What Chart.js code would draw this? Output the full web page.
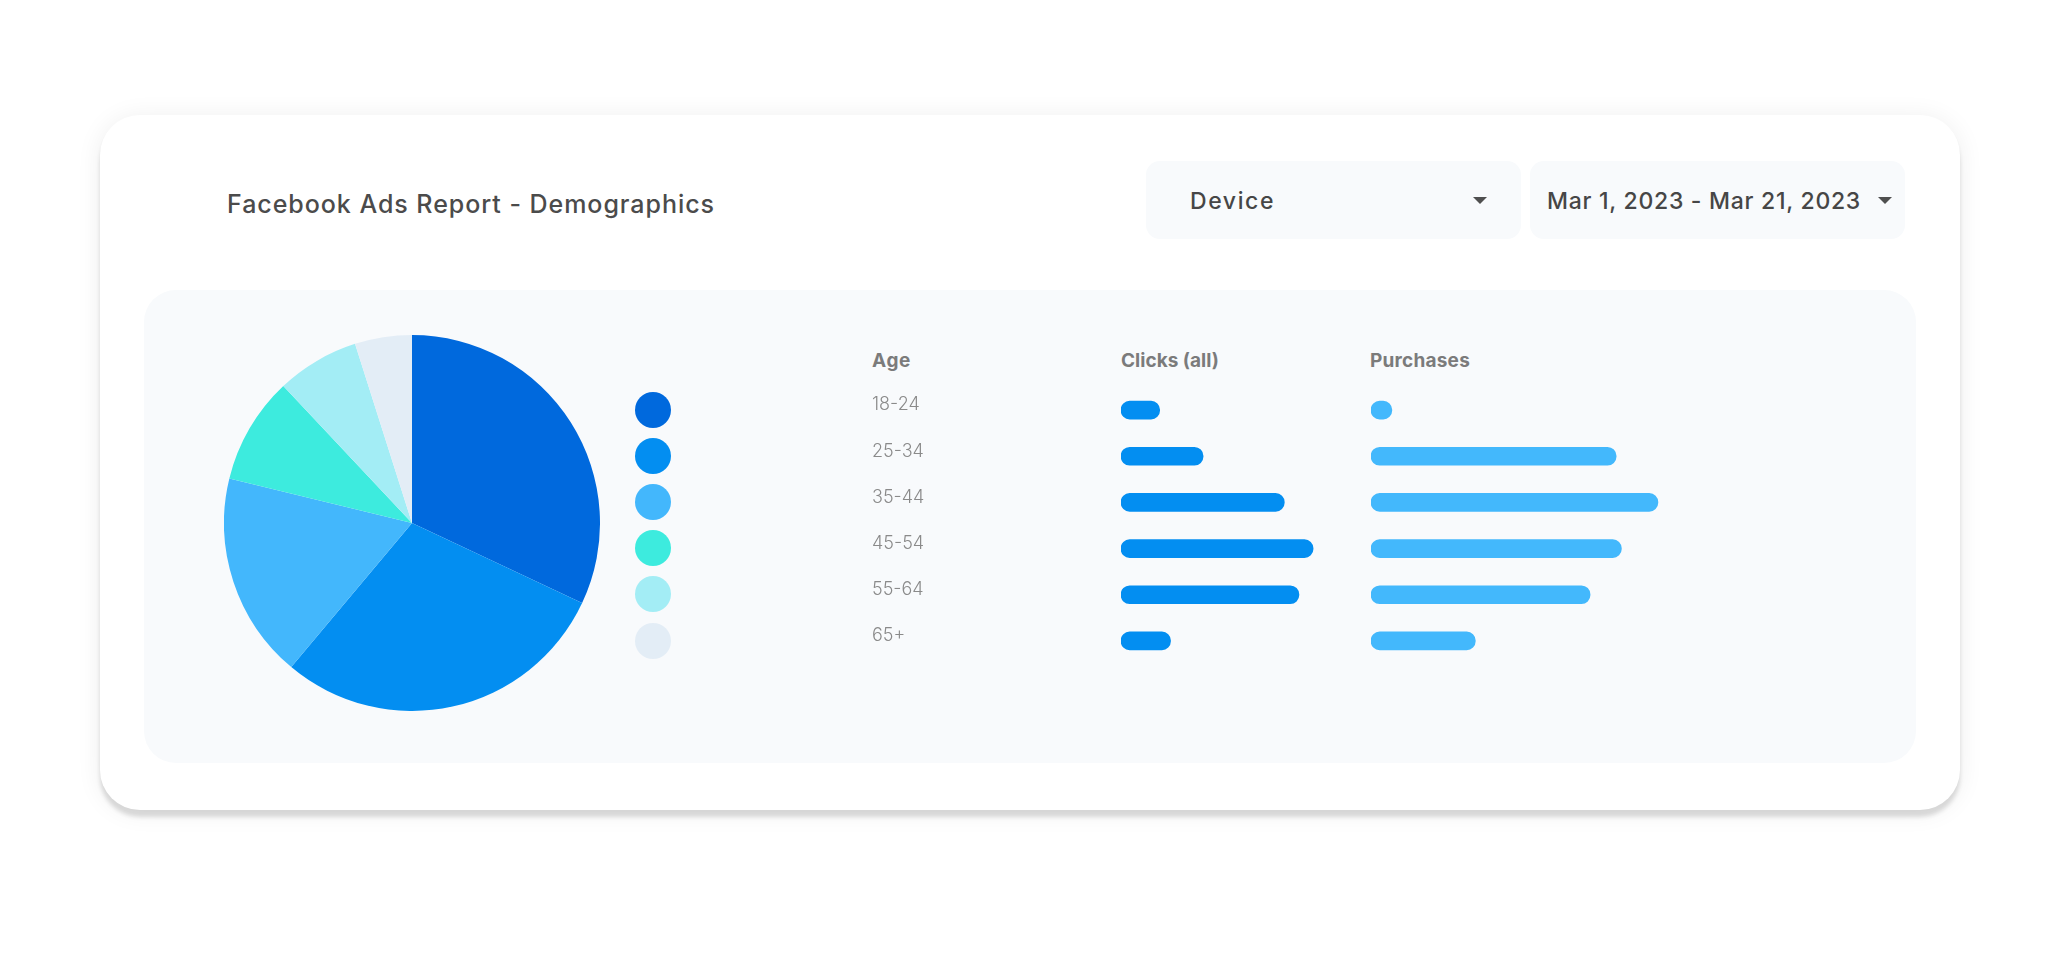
<!DOCTYPE html>
<html>
<head>
<meta charset="utf-8">
<title>Facebook Ads Report - Demographics</title>
<script src="https://cdn.jsdelivr.net/npm/chart.js@4.4.1/dist/chart.umd.min.js"></script>
<style>
    html, body { margin: 0; padding: 0; background: #ffffff; }
    body { width: 2048px; height: 963px; position: relative; overflow: hidden; font-family: Inter, "Open Sans", sans-serif; }
    .card { position: absolute; left: 100px; top: 115px; width: 1860px; height: 695px; background: #ffffff; border-radius: 40px;
        box-shadow: 0 7px 4px rgba(0,0,0,0.13), 0 2px 26px rgba(0,0,0,0.07); }
    .txt { position: absolute; white-space: nowrap; line-height: 1; }
    .title { left: 227px; top: 192px; font-size: 25px; font-weight: 500; color: #4b4b4b; }
    .dropdown { position: absolute; top: 161px; height: 78px; width: 375px; background: #f8fafc; border-radius: 14px; }
    .dd-text { top: 190px; font-size: 23px; font-weight: 500; color: #464646; }
    .arrow { position: absolute; top: 197px; width: 0; height: 0; border-left: 7.5px solid transparent; border-right: 7.5px solid transparent; border-top: 7px solid #4f4f4f; }
    .panel { position: absolute; left: 144px; top: 290px; width: 1772px; height: 473px; background: #f8fafc; border-radius: 32px; }
    .head { top: 351px; font-size: 19px; font-weight: 700; color: #7b7b7b; }
    .dot { position: absolute; width: 36px; height: 36px; border-radius: 50%; }
    canvas { position: absolute; }
</style>
</head>
<body>
<div class="card"></div>
<div class="txt title" id="title">Facebook Ads Report - Demographics</div>

<div class="dropdown" style="left:1146px"></div>
<div class="dropdown" style="left:1530px"></div>
<div class="txt dd-text" id="ddDevice" style="left:1190px">Device</div>
<div class="arrow" style="left:1473px"></div>
<div class="txt dd-text" id="ddDate" style="left:1547px">Mar 1, 2023 - Mar 21, 2023</div>
<div class="arrow" style="left:1878px"></div>

<div class="panel"></div>
<div id="legend"></div>

<div class="txt head" id="hAge" style="left:872px">Age</div>
<div class="txt head" id="hClicks" style="left:1121px">Clicks (all)</div>
<div class="txt head" id="hPurchases" style="left:1370px">Purchases</div>

<canvas id="pieChart" width="376" height="376" style="left:224px; top:335px"></canvas>
<canvas id="clicksChart" width="485" height="277" style="left:872px; top:387px"></canvas>
<canvas id="purchasesChart" width="313" height="277" style="left:1371px; top:387px"></canvas>

<script>
const ageGroups = ['18-24', '25-34', '35-44', '45-54', '55-64', '65+'];
const shareValues = [32.0, 29.1, 17.7, 9.2, 7.1, 4.9];
const clicksValues = [410, 870, 1730, 2035, 1885, 525];
const purchasesValues = [4, 47, 55, 48, 42, 20];

const pieColors = ['#0069dd', '#038ef1', '#43b7fc', '#3debde', '#a3edf5', '#e3edf6'];
const clicksColor = '#038ef1';
const purchasesColor = '#43b8fc';

Chart.defaults.animation = false;
Chart.defaults.font.family = 'Inter, "Open Sans", sans-serif';

// stretch a label so it spans the same width as in the design
function fitText(id, target) {
    const el = document.getElementById(id);
    const w = el.getBoundingClientRect().width;
    el.style.letterSpacing = ((target - w) / el.textContent.length) + 'px';
}

function drawLegend() {
    const box = document.getElementById('legend');
    pieColors.forEach((c, i) => {
        const d = document.createElement('div');
        d.className = 'dot';
        d.style.background = c;
        d.style.left = (653 - 18) + 'px';
        d.style.top = (409.5 + i * 46.2 - 18) + 'px';
        box.appendChild(d);
    });
}

function createPie() {
    new Chart(document.getElementById('pieChart'), {
        type: 'pie',
        data: {
            labels: ageGroups,
            datasets: [{
                data: shareValues,
                backgroundColor: pieColors,
                borderWidth: 0
            }]
        },
        options: {
            responsive: false,
            events: [],
            plugins: { legend: { display: false }, tooltip: { enabled: false } }
        }
    });
}

function createBars(canvasId, values, color, max, showAges) {
    new Chart(document.getElementById(canvasId), {
        type: 'bar',
        data: {
            labels: ageGroups,
            datasets: [{
                data: values,
                backgroundColor: color,
                borderRadius: 9,
                borderSkipped: false,
                barThickness: 18
            }]
        },
        options: {
            indexAxis: 'y',
            responsive: false,
            events: [],
            layout: { padding: 0 },
            plugins: { legend: { display: false }, tooltip: { enabled: false } },
            scales: {
                x: { display: false, min: 0, max: max },
                y: {
                    display: showAges,
                    grid: { display: false },
                    border: { display: false },
                    ticks: {
                        crossAlign: 'far',
                        labelOffset: -5,
                        color: '#8a8a8a',
                        font: { size: 18, weight: '300' }
                    },
                    afterFit: function (scale) {
                        // age column is 249px wide, bars start right after it
                        scale.width = showAges ? 249 : 0;
                        scale.paddingTop = 0;
                        scale.paddingBottom = 0;
                    }
                }
            }
        }
    });
}

fitText('title', 488);
fitText('ddDevice', 85);
fitText('ddDate', 314);
fitText('hAge', 39);
fitText('hClicks', 98);
fitText('hPurchases', 100);

drawLegend();
createPie();
createBars('clicksChart', clicksValues, clicksColor, 2500, true);
createBars('purchasesChart', purchasesValues, purchasesColor, 60, false);
</script>
</body>
</html>
